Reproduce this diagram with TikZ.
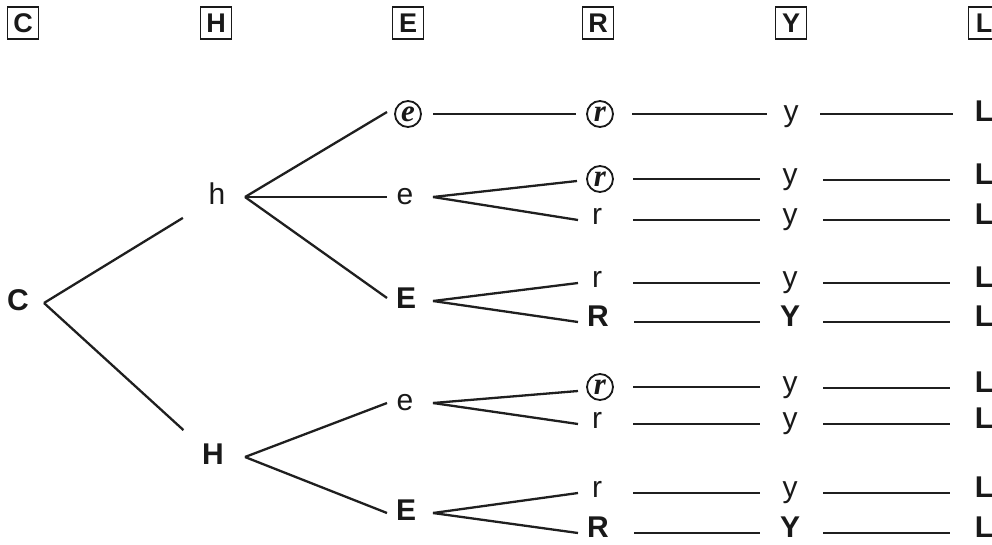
\documentclass[tikz,border=0pt]{standalone}
\usepackage{fontspec}
\setmainfont{Liberation Sans}
\newfontfamily\crf{Liberation Serif}
\usetikzlibrary{calc}
\newcommand\fsz{\fontsize{30}{34}\selectfont}
\newcommand\hsz{\fontsize{27}{30}\selectfont}
\begin{document}
\begin{tikzpicture}[x=1pt,y=-1pt,
  ln/.style={line width=2.3pt, draw=black!88},
  t/.style={inner sep=0pt, text height=15pt, text depth=0pt, font=\fsz, text=black!90},
  tb/.style={t, font=\fsz\bfseries},
  cr/.style={circle, draw=black!90, line width=1.8pt, minimum size=26pt, inner sep=0pt, text=black!90, font=\crf\bfseries\itshape\fontsize{31}{31}\selectfont},
  hd/.style={draw=black!90, line width=1.6pt, minimum width=31pt, minimum height=32pt, inner sep=0pt, text=black!90, font=\hsz\bfseries}]
\useasboundingbox (0,0) rectangle (992,544);
% header boxes
\node[hd] (hC) at (23,23) {C};
\node[hd] (hH) at (216,23) {H};
\node[hd] (hE) at (408,23) {E};
\node[hd] (hR) at (598,23) {R};
\node[hd] (hY) at (791,23) {Y};
\node[hd] (hL) at (984,23) {L};
% tree nodes
\node[tb] (C) at (18,303) {C};
\node[t]  (h) at (217,197) {h};
\node[tb] (H) at (213,457) {H};
\node[cr] (e1) at (408,114) {e};
\node[t]  (e2) at (405,197) {e};
\node[tb] (E3) at (406,301) {E};
\node[t]  (e4) at (405,403) {e};
\node[tb] (E5) at (406,513) {E};
% R column
\node[cr] (r1) at (600,114) {r};
\node[cr] (r2) at (600,179) {r};
\node[t]  (r3) at (597,217) {r};
\node[t]  (r4) at (597,280) {r};
\node[tb] (r5) at (598,319) {R};
\node[cr] (r6) at (600,387) {r};
\node[t]  (r7) at (597,421) {r};
\node[t]  (r8) at (597,490) {r};
\node[tb] (r9) at (598,530) {R};
% Y column
\node[t]  (y1) at (791,114) {y};
\node[t]  (y2) at (790,177) {y};
\node[t]  (y3) at (790,217) {y};
\node[t]  (y4) at (790,280) {y};
\node[tb] (y5) at (790,319) {Y};
\node[t]  (y6) at (790,385) {y};
\node[t]  (y7) at (790,421) {y};
\node[t]  (y8) at (790,490) {y};
\node[tb] (y9) at (790,530) {Y};
% L column
\node[tb] (L1) at (984,114) {L};
\node[tb] (L2) at (984,177) {L};
\node[tb] (L3) at (984,217) {L};
\node[tb] (L4) at (984,280) {L};
\node[tb] (L5) at (984,319) {L};
\node[tb] (L6) at (984,385) {L};
\node[tb] (L7) at (984,421) {L};
\node[tb] (L8) at (984,490) {L};
\node[tb] (L9) at (984,530) {L};
% connectors C
\draw[ln, shorten >=40pt] ([xshift=26pt]C.center) -- (h.center);
\draw[ln, shorten >=40pt] ([xshift=26pt]C.center) -- (H.center);
% h branches
\draw[ln] ([xshift=28pt]h.center) -- ([xshift=-21pt,yshift=2pt]e1.center);
\draw[ln] ([xshift=28pt]h.center) -- ([xshift=-18pt]e2.center);
\draw[ln] ([xshift=28pt]h.center) -- ([xshift=-19pt,yshift=3pt]E3.center);
% H branches
\draw[ln] ([xshift=32pt]H.center) -- ([xshift=-18pt]e4.center);
\draw[ln] ([xshift=32pt]H.center) -- ([xshift=-19pt]E5.center);
% e/E branches
\draw[ln] ([xshift=25pt]e1.center) -- ([xshift=-24pt]r1.center);
\draw[ln] ([xshift=28pt]e2.center) -- ([xshift=-23pt,yshift=-2pt]r2.center);
\draw[ln] ([xshift=28pt]e2.center) -- ([xshift=-19pt,yshift=-3pt]r3.center);
\draw[ln] ([xshift=27pt]E3.center) -- ([xshift=-19pt,yshift=-3pt]r4.center);
\draw[ln] ([xshift=27pt]E3.center) -- ([xshift=-20pt,yshift=-3pt]r5.center);
\draw[ln] ([xshift=28pt]e4.center) -- ([xshift=-22pt,yshift=-4pt]r6.center);
\draw[ln] ([xshift=28pt]e4.center) -- ([xshift=-19pt,yshift=-3pt]r7.center);
\draw[ln] ([xshift=27pt]E5.center) -- ([xshift=-19pt,yshift=-3pt]r8.center);
\draw[ln] ([xshift=27pt]E5.center) -- ([xshift=-20pt,yshift=-3pt]r9.center);
% R to Y
\draw[ln] ([xshift=32pt]r1.center) -- ([xshift=-24pt]y1.center);
\draw[ln] ([xshift=33pt]r2.center) -- ([xshift=-30pt]y2.center|-r2.center);
\foreach \i in {3,4,5,7,8,9} {
  \draw[ln] ([xshift=36pt,yshift=-3pt]r\i.center) -- ([xshift=-30pt,yshift=-3pt]y\i.center);
}
\draw[ln] ([xshift=33pt]r6.center) -- ([xshift=-30pt]y6.center|-r6.center);
% Y to L
\draw[ln] ([xshift=29pt]y1.center) -- ([xshift=-31pt]L1.center);
\foreach \i in {2,...,9} {
  \draw[ln] ([xshift=33pt,yshift=-3pt]y\i.center) -- ([xshift=-34pt,yshift=-3pt]L\i.center);
}
\end{tikzpicture}
\end{document}
